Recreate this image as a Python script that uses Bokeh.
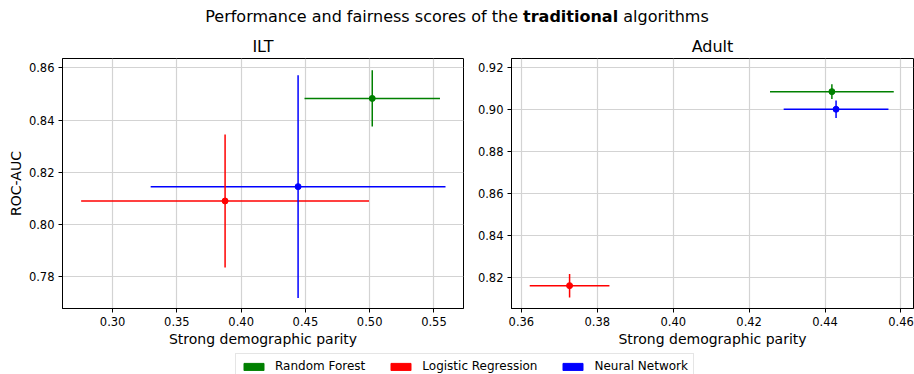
from bokeh.plotting import figure
from bokeh.layouts import column, row
from bokeh.models import (Div, Legend, LegendItem, Range1d, FixedTicker,
                          NumeralTickFormatter, ColumnDataSource)
from bokeh.embed import file_html
from bokeh.resources import INLINE

# ---- data ----
models = ["Random Forest", "Logistic Regression", "Neural Network"]
colors = ["#008000", "#ff0000", "#0000ff"]

ilt_dp = [0.502, 0.3875, 0.4443]
ilt_dp_err = [0.0527, 0.1120, 0.1147]
ilt_auc = [0.8483, 0.8090, 0.8145]
ilt_auc_err = [0.0108, 0.0255, 0.0427]

adult_dp = [0.4418, 0.3727, 0.4429]
adult_dp_err = [0.0163, 0.0105, 0.0138]
adult_auc = [0.9087, 0.8162, 0.9003]
adult_auc_err = [0.0035, 0.0056, 0.0042]

ilt_xticks = [0.30, 0.35, 0.40, 0.45, 0.50, 0.55]
ilt_yticks = [0.78, 0.80, 0.82, 0.84, 0.86]
adult_xticks = [0.36, 0.38, 0.40, 0.42, 0.44, 0.46]
adult_yticks = [0.82, 0.84, 0.86, 0.88, 0.90, 0.92]

FONT = "DejaVu Sans"


def make_panel(title, x, xe, y, ye, xticks, yticks, xr, yr, width, left, right, ylabel):
    p = figure(width=width, height=319, output_backend="svg", toolbar_location=None,
               x_range=Range1d(*xr), y_range=Range1d(*yr),
               min_border_left=left, min_border_right=right,
               min_border_top=27, min_border_bottom=42)
    src = ColumnDataSource(dict(
        x=x, y=y,
        x0=[a - b for a, b in zip(x, xe)], x1=[a + b for a, b in zip(x, xe)],
        y0=[a - b for a, b in zip(y, ye)], y1=[a + b for a, b in zip(y, ye)],
        c=colors))
    p.segment(x0="x0", x1="x1", y0="y", y1="y", line_color="c", line_width=1.5, source=src)
    p.segment(x0="x", x1="x", y0="y0", y1="y1", line_color="c", line_width=1.5, source=src)
    p.scatter(x="x", y="y", size=6, fill_color="c", line_color="c", source=src)

    p.title.text = title
    p.title.align = "center"
    p.title.text_font = FONT
    p.title.text_font_size = "16px"
    p.title.text_font_style = "normal"
    p.title.text_color = "black"
    p.title.standoff = 6

    p.xaxis.ticker = FixedTicker(ticks=xticks)
    p.yaxis.ticker = FixedTicker(ticks=yticks)
    p.xaxis.formatter = NumeralTickFormatter(format="0.00")
    p.yaxis.formatter = NumeralTickFormatter(format="0.00")
    p.xaxis.axis_label = "Strong demographic parity"
    if ylabel:
        p.yaxis.axis_label = ylabel
    for ax in (p.xaxis[0], p.yaxis[0]):
        ax.axis_label_text_font = FONT
        ax.axis_label_text_font_size = "14px"
        ax.axis_label_text_font_style = "normal"
        ax.axis_label_text_color = "black"
        ax.axis_label_standoff = 2
        ax.major_label_text_font = FONT
        ax.major_label_text_font_size = "11.5px"
        ax.major_label_text_color = "black"
        ax.major_label_standoff = 4
        ax.major_tick_out = 4
        ax.major_tick_in = 0
        ax.minor_tick_out = 0
        ax.minor_tick_in = 0
        ax.axis_line_color = "black"
        ax.major_tick_line_color = "black"
    p.grid.grid_line_color = "#d3d3d3"
    p.grid.grid_line_width = 1.2
    p.outline_line_color = "black"
    p.outline_line_width = 1
    p.background_fill_color = "white"
    p.border_fill_color = "white"
    return p


p1 = make_panel("ILT", ilt_dp, ilt_dp_err, ilt_auc, ilt_auc_err, ilt_xticks, ilt_yticks,
                (0.261, 0.573), (0.7678, 0.8636), 470, 62, 7, "ROC-AUC")
p2 = make_panel("Adult", adult_dp, adult_dp_err, adult_auc, adult_auc_err, adult_xticks, adult_yticks,
                (0.3574, 0.4633), (0.8053, 0.9245), 444, 41, 1, None)

title = Div(text='<div style="width:914px;text-align:center;font-family:\'DejaVu Sans\';'
                 'font-size:16px;line-height:30px;padding-top:2px;color:black">'
                 'Performance and fairness scores of the <b>traditional</b> algorithms</div>',
            width=914, height=31, margin=(0, 0, 0, 0))

lf = figure(width=914, height=24, output_backend="svg", toolbar_location=None,
            x_range=Range1d(0, 1), y_range=Range1d(0, 1),
            min_border_left=0, min_border_right=0, min_border_top=0, min_border_bottom=0)
lf.axis.visible = False
lf.grid.visible = False
lf.outline_line_color = None
items = []
for m, c in zip(models, colors):
    # legend swatch only: the point lies outside the visible range
    r = lf.rect(x=[-10], y=[-10], width=0.1, height=0.1, fill_color=c, line_color=c)
    items.append(LegendItem(label=m, renderers=[r]))
leg = Legend(items=items, orientation="horizontal", location=(235, -5),
             glyph_width=25, glyph_height=9, label_standoff=9, spacing=23,
             padding=5, margin=0, label_height=9,
             label_text_font=FONT, label_text_font_size="12px", label_text_color="black",
             border_line_color="#cccccc", border_line_width=1,
             background_fill_alpha=1.0)
lf.add_layout(leg, "center")

layout = column(title, row(p1, p2), lf)
open("out.html", "w").write(file_html(layout, INLINE))
